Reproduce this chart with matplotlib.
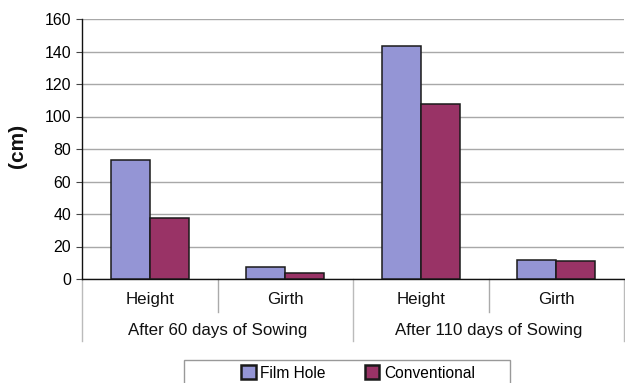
import matplotlib
matplotlib.use("Agg")
import matplotlib.pyplot as plt
from matplotlib.patches import Rectangle
import numpy as np

plt.rcParams["font.family"] = ["Liberation Sans", "DejaVu Sans"]

# Plant height / girth (cm) by sowing method
categories = ["Height", "Girth", "Height", "Girth"]
groups = ["After 60 days of Sowing", "After 110 days of Sowing"]
film_hole = [73.0, 7.6, 143.6, 11.7]
conventional = [37.5, 3.8, 107.4, 10.9]
series_names = ["Film Hole", "Conventional"]
y_ticks = [0, 20, 40, 60, 80, 100, 120, 140, 160]

W, H = 625, 383
fig = plt.figure(figsize=(W / 100, H / 100), dpi=100)
ax = fig.add_axes([82 / W, (H - 279) / H, (624 - 82) / W, 260 / H])

x = np.arange(len(categories))
bw = 0.287
ax.bar(x - bw / 2, film_hole, bw, color="#9495d5", edgecolor="#1a1a1a", linewidth=1.1,
       label=series_names[0], zorder=3)
ax.bar(x + bw / 2, conventional, bw, color="#993366", edgecolor="#1a1a1a", linewidth=1.1,
       label=series_names[1], zorder=3)

ax.set_xlim(-0.5, len(categories) - 0.5)
ax.set_ylim(0, 160)
ax.set_yticks(y_ticks)
ax.tick_params(axis="y", labelsize=11.4, length=4, width=0.8, color="#444444", pad=4)
ax.set_xticks([])
ax.grid(axis="y", color="#a8a8a8", linewidth=1.0, zorder=0)
for s in ["top", "right"]:
    ax.spines[s].set_visible(False)
ax.spines["left"].set_color("#111111")
ax.spines["bottom"].set_color("#111111")
ax.spines["left"].set_linewidth(1.0)
ax.spines["bottom"].set_linewidth(1.0)

# two-level category axis below the plot
trans = ax.get_xaxis_transform()
for i, lab in enumerate(categories):
    ax.text(i, -0.077, lab, transform=trans, ha="center", va="center", fontsize=12.2,
            color="#111111")
for j, g in enumerate(groups):
    ax.text(2 * j + 0.5, -0.198, g, transform=trans, ha="center", va="center", fontsize=12.2,
            color="#111111")
for xs in [0.5, 2.5]:
    ax.plot([xs, xs], [0, -0.125], transform=trans, color="#aaaaaa", linewidth=1.0,
            clip_on=False)
for xs in [-0.5, 1.5, 3.5]:
    ax.plot([xs, xs], [0, -0.24], transform=trans, color="#bbbbbb", linewidth=1.0,
            clip_on=False)

fig.text(18 / W, (H - 146) / H, "(cm)", rotation=90, ha="center", va="center",
         fontsize=15, fontweight="bold", color="#111111")

# legend with a box running off the bottom edge
fig.patches.append(Rectangle((184 / W, -0.02), (510 - 184) / W, (H - 360) / H + 0.02,
                             transform=fig.transFigure, fill=False, edgecolor="#999999",
                             linewidth=1.0))
leg = fig.legend(loc="center", bbox_to_anchor=(358 / W, (H - 373) / H), ncol=2,
                 frameon=False, fontsize=11.2, handlelength=0.95, handleheight=0.95,
                 handletextpad=0.3, columnspacing=2.5, borderaxespad=0)
for h in leg.legend_handles:
    h.set_linewidth(1.8)

fig.savefig("out.png", dpi=100)
